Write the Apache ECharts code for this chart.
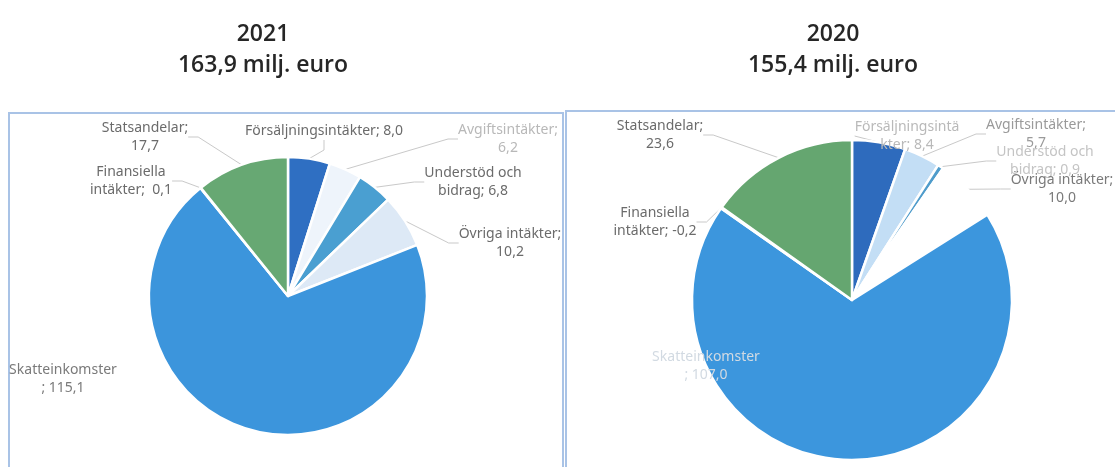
<!DOCTYPE html>
<html>
<head>
<meta charset="utf-8">
<script src="https://cdn.jsdelivr.net/npm/echarts@6/dist/echarts.min.js"></script>
<style>
html,body{margin:0;padding:0;background:#fff;}
#c{width:1115px;height:467px;}
</style>
</head>
<body>
<div id="c"></div>
<script>
// ---- data ----
const categories = ['Försäljningsintäkter','Avgiftsintäkter','Understöd och bidrag','Övriga intäkter','Skatteinkomster','Finansiella intäkter','Statsandelar'];
const years = ['2021','2020'];
const totals = ['163,9 milj. euro','155,4 milj. euro'];
const values2021 = [8.0, 6.2, 6.8, 10.2, 115.1, 0.1, 17.7];
const values2020 = [8.4, 5.7, 0.9, 10.0, 107.0, -0.2, 23.6];
// label text prefixes (as wrapped in the picture)
const labelNames2021 = ['Försäljningsintäkter; ','Avgiftsintäkter;\n','Understöd och\nbidrag; ','Övriga intäkter;\n','Skatteinkomster\n; ','Finansiella\nintäkter;  ','Statsandelar;\n'];
const labelNames2020 = ['Försäljningsintä\nkter; ','Avgiftsintäkter;\n','Understöd och\nbidrag; ','Övriga intäkter;\n','Skatteinkomster\n; ','Finansiella\nintäkter; ','Statsandelar;\n'];

// ---- layout / style (not data) ----
const colors2021 = ['#2f6fc2','#eef4fb','#4a9fd1','#dde9f6','#3c95dc','#8fb4de','#67a873'];
const colors2020 = ['#2e6bbd','#c3def5','#4f9ccb','#ffffff','#3c96dd','#8fb4de','#65a670'];
const labelPos2021 = [[324,131],[508,139],[473,182],[510,243],[63,379],[131,181],[145,137]];
const labelPos2020 = [[907,136],[1036,134],[1045,161],[1062,189],[706,366],[655,222],[660,135]];
const labelColor2021 = ['#6b6b6b','#b8b8b8','#6b6b6b','#6b6b6b','#7a7a7a','#6b6b6b','#6b6b6b'];
const labelColor2020 = ['#b9b9b9','#9a9a9a','#c4c4c4','#7a7a7a','#d2dae2','#6b6b6b','#6b6b6b'];

function fmt(v){ return v.toFixed(1).replace('.', ','); }

function buildData(vals, names, cols, lcols, hideLineIdx){
  return categories.map((c,i)=>({
    name: c,
    value: Math.abs(vals[i]),
    itemStyle: {color: cols[i]},
    label: {formatter: names[i] + fmt(vals[i]), color: lcols[i]},
    labelLine: hideLineIdx.indexOf(i) >= 0 ? {show:false} : {}
  }));
}

const chart = echarts.init(document.getElementById('c'), null, {renderer:'canvas'});
const FONT = "'Noto Sans',sans-serif";

function mkSeries(data, center, radius, pos){
  return {
    type:'pie',
    center: center,
    radius: radius,
    startAngle: 90,
    clockwise: true,
    animation:false,
    avoidLabelOverlap:false,
    itemStyle:{borderColor:'#ffffff', borderWidth:2.5},
    label:{show:true, position:'outside', fontFamily:FONT, fontSize:14, lineHeight:18, align:'center'},
    labelLine:{show:true, length:10, length2:10, lineStyle:{color:'#c9c9c9', width:1}},
    labelLayout: function(p){
      const q = pos[p.dataIndex];
      return {x:q[0], y:q[1], align:'center', verticalAlign:'middle', moveOverlap:false};
    },
    emphasis:{disabled:true},
    data: data
  };
}

const titleStyle = {fontFamily:"'Open Sans',sans-serif", fontWeight:600, fontSize:23, lineHeight:31, color:'#262626'};
const option = {
  backgroundColor:'#ffffff',
  title:[
    {text: years[0] + '\n' + totals[0], left:258, top:14, textAlign:'center', textStyle:titleStyle},
    {text: years[1] + '\n' + totals[1], left:828, top:14, textAlign:'center', textStyle:titleStyle}
  ],
  graphic:[
    {type:'rect', shape:{x:9, y:113, width:554, height:420}, style:{fill:'none', stroke:'#a9c3e6', lineWidth:2}, z:-1},
    {type:'rect', shape:{x:566, y:111, width:560, height:420}, style:{fill:'none', stroke:'#a9c3e6', lineWidth:2}, z:-1}
  ],
  series:[
    mkSeries(buildData(values2021, labelNames2021, colors2021, labelColor2021, [4]), [288,296], 139, labelPos2021),
    mkSeries(buildData(values2020, labelNames2020, colors2020, labelColor2020, [4]), [852,300], 160, labelPos2020)
  ]
};
chart.setOption(option);
</script>
</body>
</html>
